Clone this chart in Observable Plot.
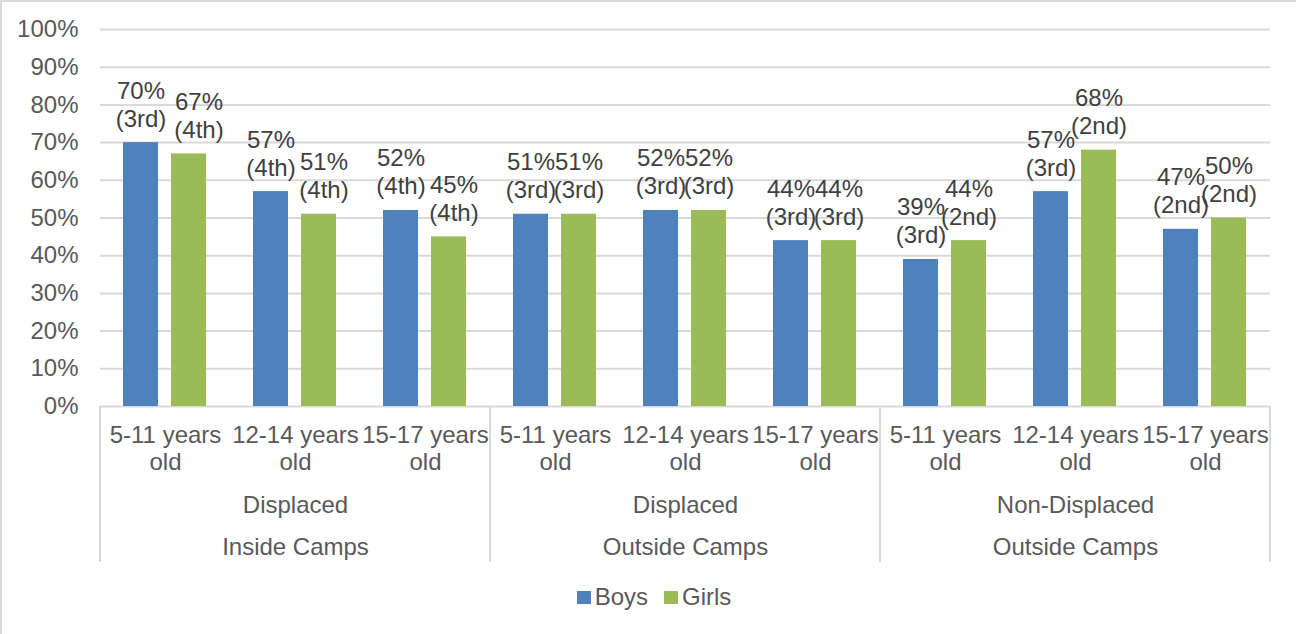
<!DOCTYPE html>
<html>
<head>
<meta charset="utf-8">
<script src="https://cdn.jsdelivr.net/npm/d3@7"></script>
<script src="https://cdn.jsdelivr.net/npm/@observablehq/plot@0.6"></script>
<style>
  body { margin: 0; background: #fff; }
  #chart {
    width: 1294px; height: 632px;
    border-top: 2px solid #d9d9d9; border-left: 2px solid #d9d9d9;
    font-family: "Liberation Sans", Arial, sans-serif; color: #595959;
    background: #fff;
  }
  #legend {
    margin-top: 10px; height: 24px; line-height: 24px;
    display: flex; justify-content: center; align-items: center;
    padding-left: 10px; font-size: 24px;
  }
  #legend .item { display: flex; align-items: center; margin: 0 8px; }
  #legend .sw { width: 14px; height: 13px; margin-right: 4px; }
</style>
</head>
<body>
<div id="chart"></div>
<script>
// Survey groups (two-line labels) and age bands within each group
const groups = ["Displaced\nInside Camps", "Displaced\nOutside Camps", "Non-Displaced\nOutside Camps"];
const ages = ["5-11 years\nold", "12-14 years\nold", "15-17 years\nold"];
const series = ["Boys", "Girls"];
const colors = ["#4f81bd", "#9bbb59"];

// Share per category, in group order then age order
const boys = [0.70, 0.57, 0.52, 0.51, 0.52, 0.44, 0.39, 0.57, 0.47];
const girls = [0.67, 0.51, 0.45, 0.51, 0.52, 0.44, 0.44, 0.68, 0.50];
const boysRank = ["3rd", "4th", "4th", "3rd", "3rd", "3rd", "3rd", "3rd", "2nd"];
const girlsRank = ["4th", "4th", "4th", "3rd", "3rd", "3rd", "2nd", "2nd", "2nd"];

const yTicks = [0, 0.1, 0.2, 0.3, 0.4, 0.5, 0.6, 0.7, 0.8, 0.9, 1.0];

// Long table: one row per bar
const rows = [];
groups.forEach((g, gi) => ages.forEach((a, ai) => {
  const i = gi * ages.length + ai;
  rows.push({key: i, series: "Boys", value: boys[i], rank: boysRank[i]});
  rows.push({key: i, series: "Girls", value: girls[i], rank: girlsRank[i]});
}));
const keys = d3.range(groups.length * ages.length);
// group captions sit under the middle age band of each group
const groupRows = groups.map((g, gi) => ({key: gi * ages.length + 1, label: g}));

// Girls' labels in the first group are nudged right so they clear the boys' labels
const crowded = d => d.series === "Girls" && d.key < ages.length;
const labelOptions = {
  fx: "key", x: "series", y: "value",
  text: d => `${Math.round(d.value * 100)}%\n(${d.rank})`,
  lineAnchor: "bottom", lineHeight: 1.17, dy: -16,
  fill: "#404040", fontSize: 24
};

const plot = Plot.plot({
  width: 1294,
  height: 573,
  marginTop: 27,
  marginLeft: 98,
  marginRight: 26,
  marginBottom: 169,
  style: {fontFamily: "'Liberation Sans', Arial, sans-serif", fontSize: "24px", color: "#595959", background: "#fff", overflow: "visible"},
  fx: {domain: keys, padding: 0, label: null},
  x: {domain: series, paddingInner: 0.265, paddingOuter: 0.46, axis: null},
  y: {domain: [0, 1]},
  color: {domain: series, range: colors},
  marks: [
    Plot.gridY(yTicks, {stroke: "#d9d9d9", strokeOpacity: 1, strokeWidth: 2}),
    Plot.axisY(yTicks, {tickFormat: d3.format(".0%"), tickSize: 0, tickPadding: 22, label: null, fontSize: 24}),
    Plot.barY(rows, {fx: "key", x: "series", y: "value", fill: "series"}),
    Plot.text(rows.filter(d => !crowded(d)), labelOptions),
    Plot.text(rows.filter(d => crowded(d) && d.key === 0), {...labelOptions, dx: 10}),
    Plot.text(rows.filter(d => crowded(d) && d.key > 0), {...labelOptions, dx: 5}),
    Plot.axisFx({anchor: "bottom", tickSize: 0, tickPadding: 17, tickFormat: i => ages[i % ages.length], lineHeight: 1.125, label: null, fontSize: 24}),
    Plot.text(groupRows, {fx: "key", text: "label", frameAnchor: "bottom", lineAnchor: "top", dy: 77, lineHeight: 1.75, fontSize: 24, fill: "#595959"})
  ]
});

// Multi-level category axis: vertical separators at the group boundaries
const fx = plot.scale("fx");
const y = plot.scale("y");
const axisDepth = 156;
const y0 = y.apply(0);
const bounds = groups.map((g, gi) => fx.apply(keys[gi * ages.length]));
bounds.push(fx.apply(keys[keys.length - 1]) + fx.bandwidth);
d3.select(plot).append("g")
  .attr("stroke", "#d9d9d9").attr("stroke-width", 2)
  .selectAll("line").data(bounds).join("line")
  .attr("x1", d => d).attr("x2", d => d)
  .attr("y1", y0).attr("y2", y0 + axisDepth);

const chart = document.getElementById("chart");
chart.append(plot);

// Legend below the plot
const legend = d3.select(chart).append("div").attr("id", "legend");
const item = legend.selectAll(".item").data(series).join("div").attr("class", "item");
item.append("div").attr("class", "sw").style("background", (d, i) => colors[i]);
item.append("span").text(d => d);
</script>
</body>
</html>
